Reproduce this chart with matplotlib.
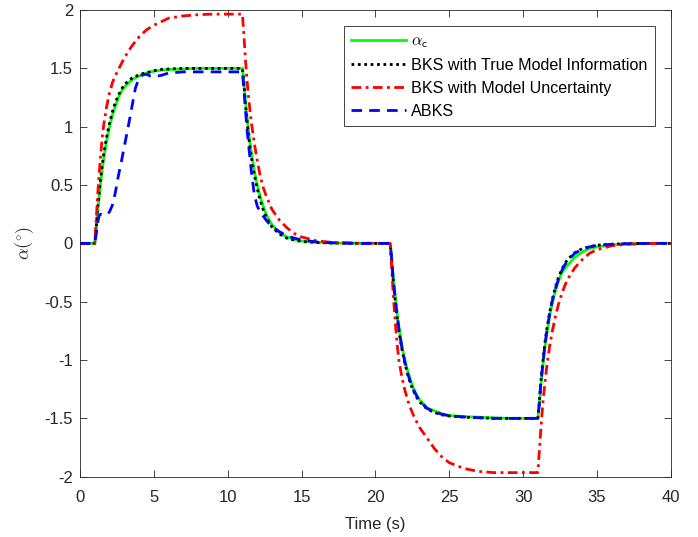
import matplotlib
matplotlib.use("Agg")
import matplotlib.pyplot as plt
from matplotlib.ticker import FormatStrFormatter

plt.rcParams['font.family'] = ['Liberation Sans', 'DejaVu Sans']
plt.rcParams['mathtext.fontset'] = 'cm'
plt.rcParams['axes.unicode_minus'] = False

# time samples (s); denser around the steps
t = [0, 1.0, 1.1, 1.2, 1.3, 1.4, 1.5, 1.6, 1.8, 2.0, 2.2, 2.4, 2.6, 2.8, 3.0,
     3.25, 3.5, 3.75, 4.0, 4.25, 4.5, 4.75, 5.0, 5.5, 6.0, 7.0, 8.0, 9.0, 10.0, 11.0,
     11.1, 11.2, 11.3, 11.4, 11.5, 11.6, 11.8, 12.0, 12.2, 12.4, 12.6, 12.8, 13.0,
     13.5, 14.0, 14.5, 15.0, 16.0, 17.0, 18.0, 19.0, 21.0,
     21.1, 21.2, 21.3, 21.4, 21.5, 21.6, 21.8, 22.0, 22.2, 22.4, 22.6, 22.8, 23.0,
     23.5, 24.0, 24.5, 25.0, 26.0, 27.0, 28.0, 29.0, 31.0,
     31.1, 31.2, 31.3, 31.4, 31.5, 31.6, 31.8, 32.0, 32.2, 32.4, 32.6, 32.8, 33.0,
     33.5, 34.0, 34.5, 35.0, 36.0, 37.0, 38.0, 39.0, 40.0]

# alpha_c (command)
alpha_c = [0, 0, 0.12, 0.28, 0.40, 0.52, 0.63, 0.72, 0.88, 1.00, 1.10, 1.18, 1.25, 1.30, 1.34,
           1.37, 1.40, 1.42, 1.435, 1.45, 1.46, 1.47, 1.475, 1.485, 1.49, 1.495, 1.5, 1.5, 1.5, 1.5,
           1.38, 1.22, 1.10, 0.98, 0.87, 0.78, 0.62, 0.50, 0.40, 0.32, 0.25, 0.20, 0.16,
           0.09, 0.055, 0.035, 0.02, 0.01, 0.004, 0.002, 0, 0,
           -0.12, -0.28, -0.40, -0.52, -0.63, -0.72, -0.88, -1.00, -1.10, -1.18, -1.25, -1.30, -1.34,
           -1.41, -1.435, -1.46, -1.475, -1.485, -1.49, -1.495, -1.5, -1.5,
           -1.38, -1.22, -1.10, -0.98, -0.87, -0.78, -0.62, -0.50, -0.40, -0.32, -0.26, -0.22, -0.19,
           -0.12, -0.075, -0.045, -0.03, -0.012, -0.005, -0.002, 0, 0]

# BKS with true model information
bks_true = [0, 0, 0.14, 0.31, 0.44, 0.56, 0.67, 0.76, 0.91, 1.03, 1.13, 1.21, 1.27, 1.32, 1.36,
            1.39, 1.415, 1.43, 1.445, 1.455, 1.465, 1.47, 1.48, 1.49, 1.495, 1.5, 1.5, 1.5, 1.5, 1.5,
            1.36, 1.19, 1.06, 0.94, 0.83, 0.74, 0.59, 0.47, 0.37, 0.29, 0.23, 0.18, 0.14,
            0.08, 0.045, 0.028, 0.016, 0.007, 0.003, 0.001, 0, 0,
            -0.14, -0.31, -0.44, -0.56, -0.67, -0.76, -0.91, -1.03, -1.13, -1.21, -1.27, -1.32, -1.36,
            -1.42, -1.45, -1.47, -1.48, -1.49, -1.495, -1.5, -1.5, -1.5,
            -1.36, -1.19, -1.06, -0.94, -0.83, -0.74, -0.59, -0.47, -0.37, -0.29, -0.23, -0.18, -0.14,
            -0.08, -0.045, -0.028, -0.016, -0.007, -0.003, -0.001, 0, 0]

# BKS with model uncertainty
bks_unc = [0, 0, 0.20, 0.42, 0.60, 0.76, 0.90, 1.01, 1.17, 1.29, 1.38, 1.44, 1.49, 1.54, 1.59,
           1.64, 1.69, 1.73, 1.77, 1.80, 1.83, 1.85, 1.87, 1.90, 1.93, 1.95, 1.96, 1.965, 1.965, 1.965,
           1.78, 1.58, 1.41, 1.27, 1.15, 1.04, 0.86, 0.71, 0.58, 0.48, 0.41, 0.35, 0.29,
           0.20, 0.135, 0.085, 0.055, 0.022, 0.009, 0.004, 0.001, 0,
           -0.20, -0.42, -0.60, -0.76, -0.90, -1.01, -1.15, -1.26, -1.35, -1.42, -1.48, -1.53, -1.58,
           -1.67, -1.76, -1.83, -1.88, -1.93, -1.955, -1.965, -1.965, -1.965,
           -1.78, -1.60, -1.43, -1.29, -1.17, -1.06, -0.88, -0.74, -0.62, -0.52, -0.44, -0.37, -0.31,
           -0.21, -0.14, -0.085, -0.055, -0.02, -0.008, -0.003, -0.001, 0]

# ABKS
abks = [0, 0, 0.08, 0.18, 0.24, 0.25, 0.245, 0.24, 0.245, 0.27, 0.33, 0.44, 0.58, 0.70, 0.83,
        0.99, 1.16, 1.33, 1.42, 1.445, 1.45, 1.435, 1.43, 1.44, 1.46, 1.47, 1.47, 1.47, 1.47, 1.47,
        1.32, 1.15, 0.99, 0.86, 0.74, 0.62, 0.42, 0.32, 0.27, 0.235, 0.20, 0.17, 0.145,
        0.10, 0.065, 0.045, 0.03, 0.012, 0.005, 0.002, 0, 0,
        -0.13, -0.30, -0.42, -0.54, -0.65, -0.74, -0.90, -1.02, -1.12, -1.20, -1.26, -1.31, -1.35,
        -1.415, -1.445, -1.465, -1.478, -1.488, -1.494, -1.5, -1.5, -1.5,
        -1.37, -1.20, -1.08, -0.96, -0.85, -0.76, -0.60, -0.48, -0.385, -0.305, -0.24, -0.19, -0.15,
        -0.085, -0.05, -0.03, -0.018, -0.008, -0.003, -0.001, 0, 0]

labels = [r'$\alpha_{\mathsf{c}}$', 'BKS with True Model Information',
          'BKS with Model Uncertainty', 'ABKS']
xticks = [0, 5, 10, 15, 20, 25, 30, 35, 40]
yticks = [-2, -1.5, -1, -0.5, 0, 0.5, 1, 1.5, 2]

fig = plt.figure(figsize=(6.98, 5.37), dpi=100)
ax = fig.add_axes([0.1146, 0.1123, 0.8464, 0.8690])

ax.plot(t, alpha_c, color='#00ff00', lw=2, label=labels[0])
ax.plot(t, bks_true, color='k', lw=2, ls=(0, (1, 1.3)), label=labels[1])
ax.plot(t, bks_unc, color='#ff0000', lw=2, ls=(0, (3.5, 1.6, 1, 1.6)), label=labels[2])
ax.plot(t, abks, color='#0000ff', lw=2, ls=(0, (3.8, 2.6)), label=labels[3])

ax.set_xlim(0, 40)
ax.set_ylim(-2, 2)
ax.set_xticks(xticks)
ax.set_yticks(yticks)
ax.yaxis.set_major_formatter(FormatStrFormatter('%g'))
ax.tick_params(direction='in', top=True, right=True, length=5, width=0.6,
               labelsize=12, colors='#262626')
ax.tick_params(axis='x', pad=9.5)
ax.tick_params(axis='y', pad=5)
for s in ax.spines.values():
    s.set_color('#262626')
    s.set_linewidth(0.6)

ax.set_xlabel('Time (s)', fontsize=12, color='#262626', labelpad=9)
ax.set_ylabel(r'$\alpha(^{\circ})$', fontsize=13, color='#262626', labelpad=6)

leg = ax.legend(loc='upper right', bbox_to_anchor=(0.973, 0.966), borderaxespad=0,
                fontsize=11.6, fancybox=False, framealpha=1, edgecolor='#262626',
                handlelength=3.4, handletextpad=0.35, labelspacing=0.5, borderpad=0.45)
leg.get_frame().set_linewidth(0.6)

fig.savefig('out.png', dpi=100)
